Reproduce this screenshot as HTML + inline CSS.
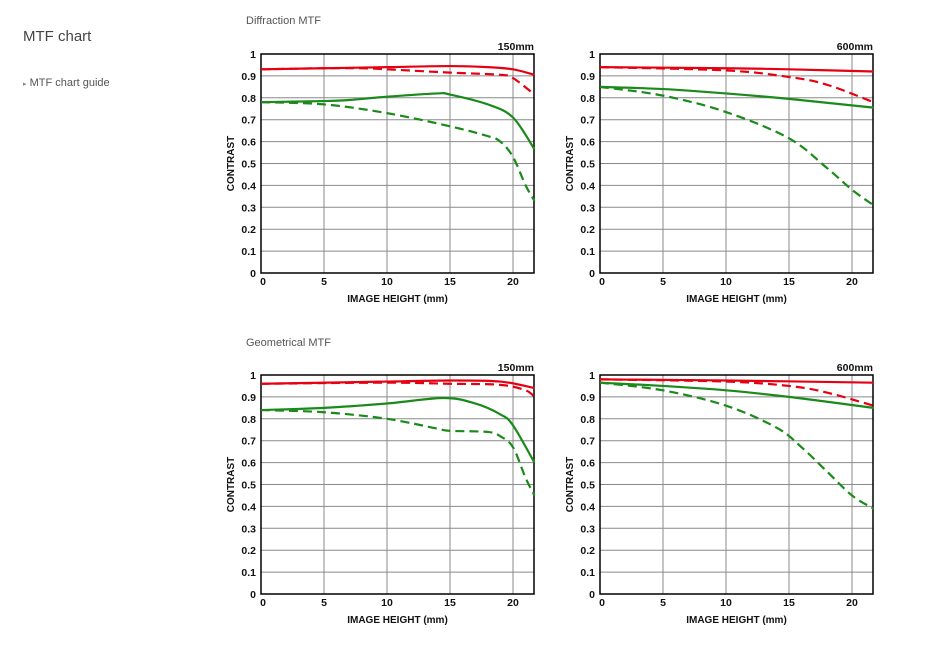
<!DOCTYPE html>
<html><head><meta charset="utf-8"><style>
body{margin:0;background:#fff;width:930px;height:647px;overflow:hidden;font-family:"Liberation Sans",sans-serif}
.t{position:absolute;color:#444}
</style></head><body>
<div class="t" style="left:23px;top:28px;font-size:15px;color:#444">MTF chart</div>
<div class="t" style="left:23px;top:77px;font-size:11px;color:#555"><span style="font-size:7px;color:#888">&#9656;</span> MTF chart guide</div>
<div class="t" style="left:246px;top:15px;font-size:11px;color:#555">Diffraction MTF</div>
<div class="t" style="left:246px;top:337px;font-size:11px;color:#555">Geometrical MTF</div>
<svg id="s" width="930" height="647" style="position:absolute;left:0;top:0"></svg>
<script>
const NS="http://www.w3.org/2000/svg",S=document.getElementById('s');
function el(t,a,txt){const e=document.createElementNS(NS,t);for(const k in a)e.setAttribute(k,a[k]);if(txt!==undefined)e.textContent=txt;S.appendChild(e);return e;}
function chart(x0,y0,label,series){
 const sx=12.6,W=273,H=219;
 const X=m=>x0+m*sx,Y=v=>y0-v*H;
 for(let i=1;i<10;i++)el('line',{x1:x0,x2:x0+W,y1:Y(i/10),y2:Y(i/10),stroke:'#8a8a8a','stroke-width':1});
 for(let m=5;m<=20;m+=5)el('line',{x1:X(m),x2:X(m),y1:y0-H,y2:y0,stroke:'#8a8a8a','stroke-width':1});
 el('rect',{x:x0,y:y0-H,width:W,height:H,fill:'none',stroke:'#000','stroke-width':1.5});
 for(let i=0;i<=10;i++){const l=i==0?'0':i==10?'1':'0.'+i;el('text',{x:x0-5,y:Y(i/10)+4,'text-anchor':'end','font-size':10.5,'font-weight':'bold',fill:'#111'},l);}
 for(let m=0;m<=20;m+=5)el('text',{x:X(m)+(m==0?2:0),y:y0+12,'text-anchor':'middle','font-size':10.5,'font-weight':'bold',fill:'#111'},m);
 el('text',{x:x0+W/2,y:y0+29,'text-anchor':'middle','font-size':10,'font-weight':'bold',fill:'#111'},'IMAGE HEIGHT (mm)');
 el('text',{x:0,y:0,'text-anchor':'middle','font-size':10,'font-weight':'bold',fill:'#111',transform:`translate(${x0-27},${y0-H/2}) rotate(-90)`},'CONTRAST');
 el('text',{x:x0+W,y:y0-H-4,'text-anchor':'end','font-size':10.5,'font-weight':'bold',fill:'#111'},label);
 for(const [col,dash,pts] of series){
  const p=pts.map(q=>[X(q[0]),Y(q[1])]);
  let d='M'+p[0][0]+','+p[0][1];
  for(let i=0;i<p.length-1;i++){const a=p[i-1]||p[i],b=p[i],c=p[i+1],e=p[i+2]||c;
   d+=` C${b[0]+(c[0]-a[0])/6},${b[1]+(c[1]-a[1])/6} ${c[0]-(e[0]-b[0])/6},${c[1]-(e[1]-b[1])/6} ${c[0]},${c[1]}`;}
  const a={d:d,fill:'none',stroke:col,'stroke-width':2.2};if(dash)a['stroke-dasharray']='9,5';el('path',a);
 }
}
const R='#e60012',G='#1a8a1a';
chart(261,273,'150mm',[
[R,0,[[0,.93],[5,.935],[10,.94],[15,.945],[18,.94],[20,.93],[21.7,.905]]],
[R,1,[[0,.93],[5,.935],[8,.935],[10,.93],[15,.915],[19,.905],[20,.89],[21.7,.815]]],
[G,0,[[0,.78],[5,.785],[7,.79],[10,.805],[14,.82],[15,.815],[18,.77],[20,.71],[21.7,.565]]],
[G,1,[[0,.78],[5,.77],[10,.73],[15,.67],[18,.625],[19,.6],[20,.53],[21,.4],[21.7,.33]]]]);
chart(600,273,'600mm',[
[R,0,[[0,.94],[10,.935],[15,.93],[21.7,.92]]],
[R,1,[[0,.94],[10,.925],[15,.895],[18,.86],[21.7,.78]]],
[G,0,[[0,.85],[5,.84],[10,.82],[15,.795],[21.7,.755]]],
[G,1,[[0,.85],[5,.81],[10,.735],[15,.615],[18,.48],[20,.38],[21.7,.31]]]]);
chart(261,594,'150mm',[
[R,0,[[0,.96],[10,.97],[15,.975],[19,.97],[21.7,.94]]],
[R,1,[[0,.96],[10,.965],[15,.96],[19,.955],[21,.93],[21.7,.9]]],
[G,0,[[0,.84],[5,.85],[10,.87],[14.5,.895],[17,.87],[19,.82],[20,.77],[21.7,.6]]],
[G,1,[[0,.84],[5,.83],[10,.8],[14,.755],[15,.745],[18,.74],[19,.72],[20,.67],[21,.53],[21.7,.45]]]]);
chart(600,594,'600mm',[
[R,0,[[0,.98],[10,.975],[21.7,.965]]],
[R,1,[[0,.98],[10,.97],[15,.95],[18,.92],[21.7,.86]]],
[G,0,[[0,.965],[5,.95],[10,.93],[15,.9],[21.7,.85]]],
[G,1,[[0,.965],[5,.93],[10,.86],[14,.76],[16,.67],[18,.56],[20,.45],[21.7,.39]]]]);
</script>
</body></html>
